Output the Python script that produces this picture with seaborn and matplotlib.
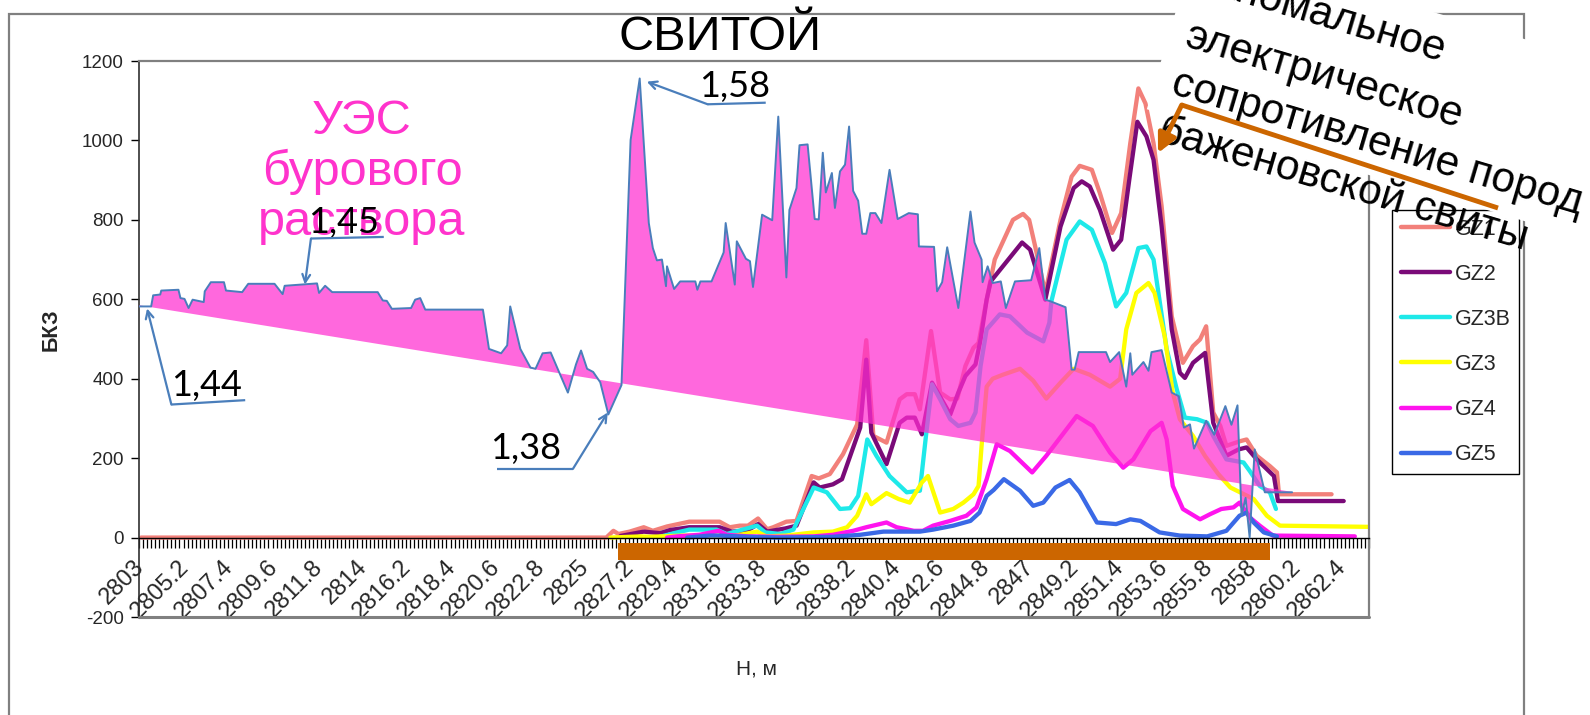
import numpy as np
import pandas as pd
import matplotlib
matplotlib.use("Agg")
import matplotlib.pyplot as plt
import seaborn as sns
from matplotlib import font_manager
from matplotlib.lines import Line2D
from matplotlib.patches import Rectangle, Polygon, FancyArrowPatch

# ---------------- data ----------------
# resistivity of drilling mud (curve bounding the pink area)
ues_depth = [
    2802.9, 2803.5, 2803.6, 2803.95, 2804.0, 2804.85, 2804.95, 2805.15, 2805.35, 2805.55,
    2806.1, 2806.15, 2806.45, 2807.1, 2807.2, 2808.0, 2808.3, 2809.6, 2810.0, 2810.1,
    2811.7, 2811.8, 2812.1, 2812.45, 2814.7, 2814.95, 2815.15, 2815.4, 2816.35, 2816.55,
    2816.8, 2817.05, 2819.9, 2820.2, 2820.8, 2821.1, 2821.25, 2821.75, 2822.25, 2822.5,
    2822.85, 2823.25, 2824.1, 2824.5, 2824.75, 2825.05, 2825.35, 2825.7, 2826.1, 2826.75,
    2827.2, 2827.65, 2828.1, 2828.3, 2828.5, 2828.75, 2828.95, 2829.0, 2829.35, 2829.65,
    2830.4, 2830.5, 2830.65, 2831.2, 2831.8, 2831.9, 2832.35, 2832.45, 2832.9, 2833.1,
    2833.25, 2833.7, 2834.2, 2834.5, 2834.9, 2835.05, 2835.4, 2835.55, 2835.95, 2836.3,
    2836.5, 2836.7, 2836.85, 2837.15, 2837.3, 2837.55, 2837.8, 2838.0, 2838.2, 2838.45,
    2838.65, 2838.85, 2839.05, 2839.3, 2839.6, 2840.0, 2840.4, 2840.95, 2841.4, 2841.45,
    2842.2, 2842.35, 2842.6, 2842.85, 2843.4, 2844.0, 2844.2, 2844.55, 2844.6, 2844.85,
    2845.1, 2845.5, 2845.75, 2846.2, 2847.0, 2847.4, 2847.7, 2847.95, 2848.7, 2849.0,
    2849.15, 2849.35, 2850.7, 2850.9, 2851.35, 2851.7, 2851.9, 2852.0, 2852.55, 2852.8,
    2852.95, 2853.45, 2853.95, 2854.3, 2854.55, 2854.85, 2855.05, 2855.65, 2856.05, 2856.6,
    2856.9, 2857.2, 2857.4, 2857.6, 2857.8, 2858.05, 2858.55, 2859.9,
]
ues_value = [
    582, 582, 610, 612, 622, 624, 603, 601, 578, 599,
    593, 620, 643, 643, 622, 618, 639, 639, 613, 634,
    640, 616, 634, 618, 618, 597, 596, 576, 578, 599,
    603, 574, 574, 475, 464, 484, 582, 475, 428, 425,
    464, 466, 365, 436, 471, 425, 417, 391, 310, 384,
    1001, 1156, 792, 729, 698, 700, 633, 683, 626, 645,
    645, 624, 645, 645, 718, 792, 637, 746, 702, 696,
    631, 813, 799, 1060, 655, 825, 880, 988, 990, 802,
    801, 969, 869, 918, 830, 922, 939, 1035, 873, 848,
    765, 765, 817, 817, 792, 926, 802, 817, 814, 733,
    732, 620, 643, 731, 578, 821, 743, 700, 643, 683,
    641, 645, 578, 645, 648, 729, 599, 595, 580, 423,
    423, 467, 467, 442, 467, 380, 464, 410, 442, 420,
    467, 472, 365, 356, 277, 285, 224, 294, 259, 331,
    284, 333, 55, 100, 0, 222, 114, 114,
]
# straight lower edge of the pink area
base_depth = [2802.9, 2859.9]
base_value = [585, 115]

gz1_depth = [
    2803.0, 2826.0, 2826.35, 2826.6, 2827.15, 2827.85, 2828.3, 2829.0, 2830.1, 2831.6,
    2832.1, 2832.6, 2833.0, 2833.5, 2833.95, 2834.25, 2834.9, 2835.4, 2836.15, 2836.5,
    2837.05, 2837.7, 2838.4, 2838.85, 2839.2, 2839.85, 2840.5, 2840.85, 2841.25, 2841.5,
    2842.05, 2842.5, 2843.0, 2843.35, 2843.75, 2844.15, 2844.4, 2844.8, 2845.2, 2846.1,
    2846.6, 2846.9, 2847.2, 2847.7, 2848.45, 2849.0, 2849.4, 2850.0, 2850.4, 2851.0,
    2851.45, 2851.9, 2852.3, 2852.65, 2853.05, 2853.45, 2853.95, 2854.5, 2855.0, 2855.35,
    2855.65, 2856.0, 2856.35, 2856.65, 2857.35, 2857.65, 2858.15, 2858.8, 2859.15, 2859.25,
    2861.85,
]
gz1_value = [
    0, 0, 17, 9, 15, 26, 17, 28, 40, 40,
    26, 30, 30, 48, 21, 26, 40, 42, 155, 149,
    160, 210, 285, 497, 256, 239, 348, 361, 361, 323,
    520, 365, 348, 350, 432, 478, 490, 599, 700, 800,
    815, 800, 733, 616, 800, 909, 936, 926, 867, 767,
    817, 993, 1131, 1093, 993, 834, 557, 440, 482, 499,
    532, 315, 281, 231, 243, 247, 206, 180, 164, 109,
    109,
]
gz2_depth = [
    2826.7, 2827.85, 2828.65, 2829.15, 2830.1, 2831.6, 2832.2, 2832.95, 2833.5, 2833.95,
    2834.85, 2835.4, 2836.25, 2836.55, 2837.2, 2837.65, 2838.55, 2838.85, 2839.1, 2839.85,
    2840.5, 2840.85, 2841.25, 2841.6, 2842.1, 2843.0, 2843.4, 2843.75, 2844.25, 2844.5,
    2844.8, 2845.0, 2846.55, 2846.95, 2847.7, 2848.45, 2849.1, 2849.5, 2849.9, 2850.4,
    2851.05, 2851.45, 2851.85, 2852.25, 2852.7, 2853.05, 2853.45, 2853.95, 2854.35, 2854.6,
    2855.0, 2855.6, 2856.0, 2856.65, 2857.25, 2857.65, 2858.15, 2859.0, 2859.2, 2862.45,
]
gz2_value = [
    4, 15, 11, 19, 26, 26, 15, 17, 34, 15,
    23, 30, 139, 126, 134, 147, 277, 448, 264, 185,
    289, 302, 302, 260, 390, 310, 365, 407, 436, 499,
    599, 645, 743, 725, 599, 783, 880, 897, 884, 825,
    725, 750, 901, 1047, 1010, 951, 783, 524, 415, 402,
    440, 465, 289, 206, 222, 227, 197, 155, 92, 92,
]
gz3b_depth = [
    2828.65, 2829.5, 2830.1, 2831.45, 2831.95, 2833.45, 2833.85, 2834.6, 2835.25, 2836.25,
    2836.9, 2837.55, 2838.05, 2838.45, 2838.9, 2839.35, 2840.0, 2840.85, 2841.5, 2841.8,
    2842.1, 2842.5, 2843.0, 2843.4, 2844.0, 2844.25, 2844.5, 2844.8, 2845.45, 2845.95,
    2846.8, 2847.6, 2847.9, 2848.0, 2848.75, 2849.4, 2850.0, 2850.65, 2851.2, 2851.7,
    2852.3, 2852.7, 2853.05, 2853.7, 2854.2, 2854.6, 2855.2, 2855.7, 2856.0, 2856.65,
    2857.5, 2857.8, 2858.3, 2858.8, 2859.1,
]
gz3b_value = [
    2, 13, 20, 20, 9, 30, 13, 9, 20, 126,
    114, 72, 74, 105, 247, 206, 155, 114, 118, 256,
    386, 348, 298, 281, 289, 315, 432, 524, 562, 557,
    516, 494, 541, 595, 750, 796, 775, 691, 582, 616,
    729, 733, 700, 474, 373, 302, 298, 289, 256, 197,
    189, 168, 130, 114, 72,
]
gz3_depth = [
    2826.2, 2827.7, 2828.15, 2829.8, 2831.45, 2832.4, 2833.45, 2833.9, 2834.9, 2836.25,
    2837.2, 2837.9, 2838.4, 2838.85, 2839.1, 2839.85, 2840.45, 2841.0, 2841.6, 2841.9,
    2842.5, 2843.15, 2843.65, 2844.15, 2844.4, 2844.55, 2844.8, 2845.1, 2845.6, 2846.45,
    2847.1, 2847.75, 2848.45, 2849.1, 2849.9, 2850.9, 2851.4, 2851.7, 2852.2, 2852.8,
    2853.1, 2853.6, 2854.0, 2854.35, 2855.0, 2855.6, 2856.25, 2856.85, 2858.0, 2858.65,
    2859.3, 2863.65,
]
gz3_value = [
    0, 3, 2, 5, 5, 5, 15, 3, 5, 13,
    15, 26, 55, 109, 84, 112, 97, 88, 139, 155,
    63, 72, 88, 109, 130, 231, 380, 400, 410, 425,
    395, 350, 390, 425, 410, 380, 400, 524, 616, 641,
    616, 507, 365, 298, 256, 205, 160, 126, 97, 55,
    30, 27,
]
gz4_depth = [
    2829.0, 2829.5, 2830.6, 2831.55, 2831.95, 2833.0, 2834.5, 2836.25, 2837.2, 2838.2,
    2838.85, 2839.85, 2840.35, 2841.2, 2841.65, 2842.15, 2843.0, 2843.8, 2844.3, 2844.8,
    2845.3, 2845.95, 2847.05, 2847.75, 2849.25, 2850.05, 2850.9, 2851.55, 2852.05, 2852.9,
    2853.45, 2853.7, 2854.0, 2854.5, 2855.35, 2855.85, 2856.4, 2857.0, 2857.3, 2857.8,
    2858.3, 2858.95, 2863.0,
]
gz4_value = [
    0, 3, 7, 17, 7, 3, 2, 3, 7, 17,
    26, 38, 26, 17, 17, 30, 42, 55, 76, 147,
    235, 218, 164, 206, 306, 281, 214, 176, 197, 268,
    289, 247, 130, 72, 46, 59, 72, 76, 88, 51,
    30, 5, 3,
]
gz5_depth = [
    2830.0, 2831.1, 2831.6, 2833.0, 2834.5, 2837.2, 2838.55, 2839.7, 2841.5, 2842.15,
    2843.15, 2844.0, 2844.45, 2844.8, 2845.15, 2845.65, 2846.45, 2847.1, 2847.6, 2848.2,
    2848.9, 2849.4, 2850.25, 2851.2, 2851.9, 2852.4, 2853.35, 2854.35, 2855.7, 2856.65,
    2857.3, 2857.65, 2858.0, 2858.5, 2859.15,
]
gz5_value = [
    0, 5, 5, 2, 0, 2, 7, 15, 15, 20,
    30, 42, 63, 105, 120, 147, 118, 80, 88, 126,
    145, 114, 38, 34, 46, 42, 13, 5, 3, 17,
    55, 63, 38, 13, 3,
]

series_names = ["GZ1", "GZ2", "GZ3B", "GZ3", "GZ4", "GZ5"]
series_depths = [gz1_depth, gz2_depth, gz3b_depth, gz3_depth, gz4_depth, gz5_depth]
series_values = [gz1_value, gz2_value, gz3b_value, gz3_value, gz4_value, gz5_value]
series_colors = ["#F2807A", "#7A0A78", "#1EE9E9", "#FFFF00", "#FF14EE", "#3A69E6"]

x_tick_labels = ["2803", "2805.2", "2807.4", "2809.6", "2811.8", "2814", "2816.2",
                 "2818.4", "2820.6", "2822.8", "2825", "2827.2", "2829.4", "2831.6",
                 "2833.8", "2836", "2838.2", "2840.4", "2842.6", "2844.8", "2847",
                 "2849.2", "2851.4", "2853.6", "2855.8", "2858", "2860.2", "2862.4"]
y_tick_values = [-200, 0, 200, 400, 600, 800, 1000, 1200]

# Bazhenov formation interval bar under the axis
bar_depth = [2826.6, 2858.8]
bar_low, bar_high = -56, -13

note_lines = ["аномальное", "электрическое", "сопротивление пород", "баженовской свиты"]

# ---------------- styling ----------------
sns.set_theme(style="white")
available = {f.name for f in font_manager.fontManager.ttflist}
has_narrow = "Liberation Sans Narrow" in available
NARROW = ["Liberation Sans Narrow", "Liberation Sans", "DejaVu Sans"] if has_narrow \
    else ["Liberation Sans", "DejaVu Sans"]
SANS = ["Liberation Sans", "DejaVu Sans"]
plt.rcParams["font.family"] = SANS
plt.rcParams["axes.unicode_minus"] = False

W, H = 1590, 715


def fx(px):
    return px / W


def fy(py):
    return 1 - py / H


fig = plt.figure(figsize=(W / 100, H / 100), dpi=100)
fig.patch.set_facecolor("white")

# outer chart border
fig.add_artist(Rectangle((fx(9), -0.05), fx(1524) - fx(9), fy(14) + 0.05,
                         transform=fig.transFigure, fill=False,
                         edgecolor="#808080", lw=1.6, zorder=0))

ax = fig.add_axes([fx(139), fy(617), fx(1369) - fx(139), fy(61) - fy(617)])
ax.set_facecolor("white")
ax.set_xlim(2802.9, 2863.7)
ax.set_ylim(-200, 1200)

# GZ probe curves
long = pd.concat(
    [pd.DataFrame({"depth": d, "bkz": v, "series": n})
     for n, d, v in zip(series_names, series_depths, series_values)],
    ignore_index=True)
sns.lineplot(data=long, x="depth", y="bkz", hue="series", hue_order=series_names,
             palette=dict(zip(series_names, series_colors)), linewidth=3.1,
             estimator=None, sort=False, legend=False, ax=ax, zorder=2)

# pink area between the mud curve and its straight lower edge
poly_x = np.r_[ues_depth, base_depth[::-1]]
poly_y = np.r_[ues_value, base_value[::-1]]
ax.fill(poly_x, poly_y, color="#FF2ED0", alpha=0.72, lw=0, zorder=3)
steel = "#4A7EBB"
sns.lineplot(x=ues_depth, y=ues_value, color=steel, linewidth=1.4,
             estimator=None, sort=False, ax=ax, zorder=4)

# interval bar
ax.fill_between(bar_depth, bar_low, bar_high, color="#CC6600", lw=0, zorder=5)

# axes, ticks, frame
ax.set_xlabel("")
ax.set_ylabel("")
ax.set_xticks([float(t) for t in x_tick_labels])
ax.set_xticklabels(x_tick_labels)
ax.set_xticks(np.arange(2802.9, 2863.75, 0.2), minor=True)
ax.tick_params(axis="x", which="major", length=0, pad=19, labelrotation=45,
               labelsize=17, labelfontfamily=NARROW[0])
ax.tick_params(axis="x", which="minor", length=7, width=0.9, color="black",
               direction="out", bottom=True)
ax.set_yticks(y_tick_values)
ax.set_yticklabels([str(v) for v in y_tick_values])
ax.tick_params(axis="y", length=6, width=1, color="black", direction="out",
               pad=5, left=True, labelsize=13.5, labelfontfamily=NARROW[0])
ax.spines["bottom"].set_position(("data", 0))
ax.spines["bottom"].set_color("black")
ax.spines["bottom"].set_linewidth(1)
ax.spines["left"].set_color("#303030")
ax.spines["left"].set_linewidth(1.2)
for s in ("top", "right"):
    ax.spines[s].set_color("#808080")
    ax.spines[s].set_linewidth(1.6)
ax.axhline(-200, color="#808080", lw=2.2, clip_on=False, zorder=6)

# legend
handles = [Line2D([], [], color=c, lw=3.2) for c in series_colors]
leg = ax.legend(handles, series_names, loc="upper left",
                bbox_to_anchor=(fx(1392), fy(210)), bbox_transform=fig.transFigure,
                frameon=True, fancybox=False, edgecolor="black", framealpha=1,
                borderpad=0.4, labelspacing=1.12, handlelength=2.3,
                handletextpad=0.22, borderaxespad=0, prop={"family": SANS, "size": 15.5})
leg.get_frame().set_linewidth(1)

# pink label
ax.text(fx(362), fy(172), "УЭС\nбурового\nраствора", transform=fig.transFigure,
        ha="center", va="center", color="#FF33CC", family=NARROW,
        fontsize=35, linespacing=1.15, zorder=7)


# density callouts with leader lines
def callout(text, text_pos, under, tip):
    ax.text(text_pos[0], text_pos[1], text, ha="center", va="baseline",
            family=["Lato", "DejaVu Sans"], fontsize=26, color="black", zorder=8)
    ax.plot([under[0][0], under[1][0]], [under[0][1], under[1][1]],
            color=steel, lw=1.6, zorder=8, solid_capstyle="butt")
    ax.annotate("", xy=tip, xytext=under[1],
                arrowprops=dict(arrowstyle="->", color=steel, lw=1.6,
                                shrinkA=0, shrinkB=0, mutation_scale=14),
                zorder=8)


callout("1,44", (2806.25, 356), [(2808.15, 346), (2804.5, 335)], (2803.3, 577))
callout("1,45", (2813.0, 768), [(2815.0, 757), (2811.4, 753)], (2811.1, 637))
callout("1,38", (2822.0, 197), [(2820.6, 173), (2824.35, 173)], (2826.07, 315))
callout("1,58", (2832.36, 1109), [(2833.88, 1095), (2831.01, 1091)], (2828.0, 1148))

# axis titles
fig.text(fx(51), fy(330), "БКЗ", rotation=90, ha="center", va="center",
         fontsize=15.5, fontweight="bold", family=SANS)
fig.text(fx(756), fy(669), "Н, м", ha="center", va="center",
         fontsize=15, family=NARROW)

# heading fragment
fig.text(fx(720), fy(38), "СВИТОЙ", ha="center", va="center",
         fontsize=35, family=NARROW, color="black")

# rotated note: white backing panel, then the lines of text
ang = np.deg2rad(16.5)
c, s = np.cos(ang), np.sin(ang)


def rot(u, n):
    # rotated frame (u along the text, n across it) -> pixel coordinates
    return (u * c - n * s, u * s + n * c)


panel = [rot(u, n) for u, n in [(1130.6, -395.5), (1760, -395.5), (1760, -221), (1130.6, -221)]]
fig.add_artist(Polygon([(fx(x), fy(y)) for x, y in panel], closed=True,
                       transform=fig.transFigure, facecolor="white",
                       edgecolor="none", zorder=9))
for line, (u, n) in zip(note_lines, [(1160.0, -350.0), (1148.1, -292.0),
                                     (1148.1, -242.4), (1148.1, -192.8)]):
    x, y = rot(u, n)
    fig.text(fx(x), fy(y), line, rotation=-16.5, rotation_mode="anchor",
             ha="left", va="baseline", fontsize=30.5, family=SANS,
             color="black", zorder=10)

# orange pointer
fig.add_artist(Line2D([fx(1181.7), fx(1498)], [fy(105), fy(208)],
                      transform=fig.transFigure, color="#CC6600", lw=3.5,
                      solid_capstyle="butt", zorder=11))
fig.add_artist(FancyArrowPatch((fx(1181.7), fy(105)), (fx(1158), fy(153)),
                               transform=fig.transFigure, arrowstyle="-|>",
                               mutation_scale=28, color="#CC6600", lw=3.5,
                               shrinkA=0, shrinkB=0, zorder=11))

# final alignment of the slanted depth labels
fig.canvas.draw()
for lab in ax.get_xticklabels():
    lab.set_rotation(45)
    lab.set_rotation_mode("anchor")
    lab.set_horizontalalignment("right")
    lab.set_verticalalignment("center")
    lab.set_family(NARROW)
    lab.set_fontsize(17)
for lab in ax.get_yticklabels():
    lab.set_family(NARROW)
    lab.set_fontsize(13.5)

fig.savefig("out.png", dpi=100, facecolor="white")
